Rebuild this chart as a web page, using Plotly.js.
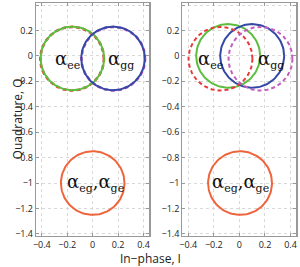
<!DOCTYPE html>
<html><head><meta charset="utf-8">
<script src="https://cdn.plot.ly/plotly-3.0.1.min.js"></script>
<style>html,body{margin:0;padding:0;background:#fff}#plot{width:300px;height:267px}</style>
</head><body><div id="plot"></div>
<script>
// Circle centres (I, Q) and radius for each panel
const radius = 0.25;
const circleNames = ["ee_dash", "ee", "gg_dash", "gg", "eg"];
const leftCx = [-0.162, -0.16, 0.162, 0.16, 0.0];
const leftCy = [-0.022, -0.02, -0.022, -0.02, -1.0];
const rightCx = [-0.148, -0.088, 0.165, 0.10, 0.005];
const rightCy = [-0.022, 0.0, -0.022, 0.0, -1.0];
const colors = ["#e83a3a", "#5cbd3e", "#c45bbf", "#3449a6", "#f0643c"];
const dashes = ["dash", "solid", "dash", "solid", "solid"];
const tickVals = [-0.4, -0.2, 0, 0.2, 0.4];
const yTickVals = [-1.4, -1.2, -1, -0.8, -0.6, -0.4, -0.2, 0, 0.2, 0.4];
const subStyle = "font-size:11px";
const labelText = [
  "α<sub><span style='" + subStyle + "'>ee</span></sub>",
  "α<sub><span style='" + subStyle + "'>gg</span></sub>",
  "α<sub><span style='" + subStyle + "'>eg</span></sub>,α<sub><span style='" + subStyle + "'>ge</span></sub>"
];
const leftLabelX = [-0.2, 0.22, 0.02];
const rightLabelX = [-0.23, 0.25, 0.01];
const labelY = [-0.03, -0.03, -1.0];

function circle(cx, cy, r) {
  const xs = [], ys = [];
  for (let i = 0; i <= 120; i++) {
    const t = 2 * Math.PI * i / 120;
    xs.push(cx + r * Math.cos(t));
    ys.push(cy + r * Math.sin(t));
  }
  return {xs, ys};
}
const traces = [];
function addPanel(cxs, cys, xa, ya, order, dashW) {
  order.forEach(i => {
    const c = circle(cxs[i], cys[i], radius);
    const isDash = dashes[i] === "dash";
    traces.push({x: c.xs, y: c.ys, xaxis: xa, yaxis: ya, type: "scatter", mode: "lines",
      line: {color: colors[i], width: isDash ? dashW : 2, dash: isDash ? "4px,3px" : "solid"},
      hoverinfo: "skip", showlegend: false});
  });
}
addPanel(leftCx, leftCy, "x", "y", [0, 2, 1, 3, 4], 2.6);
addPanel(rightCx, rightCy, "x2", "y2", [1, 3, 0, 2, 4], 2);

const tickFont = {family: "Open Sans, DejaVu Sans, sans-serif", size: 9, color: "#222"};
function xaxis(domain, anchor) {
  return {domain, anchor, range: [-0.446, 0.446], tickvals: tickVals,
    ticktext: tickVals.map(v => v < 0 ? "−" + Math.abs(v) : String(v)),
    showgrid: true, gridcolor: "#d8d8d8", griddash: "dot", gridwidth: 1,
    zeroline: false, showline: true, linecolor: "#999", linewidth: 1.2, mirror: "ticks",
    ticks: "inside", ticklen: 3, tickcolor: "#999", tickfont: tickFont};
}
function yaxis(domain, anchor) {
  return {domain, anchor, range: [-1.414, 0.416], tickvals: yTickVals,
    ticktext: yTickVals.map(v => v < 0 ? "−" + Math.abs(v) : String(v)),
    showgrid: true, gridcolor: "#d8d8d8", griddash: "dot", gridwidth: 1,
    zeroline: false, showline: true, linecolor: "#999", linewidth: 1.2, mirror: "ticks",
    ticks: "inside", ticklen: 3, tickcolor: "#999", tickfont: tickFont};
}
const annFont = {family: "DejaVu Serif, Liberation Serif, serif", size: 18, color: "#111"};
const annotations = [];
labelText.forEach((t, i) => {
  annotations.push({x: leftLabelX[i], y: labelY[i], xref: "x", yref: "y", text: t, showarrow: false, font: annFont});
  annotations.push({x: rightLabelX[i], y: labelY[i], xref: "x2", yref: "y2", text: t, showarrow: false, font: annFont});
});
annotations.push({x: 0.5, y: 0.03, xref: "paper", yref: "paper", xanchor: "center", yanchor: "middle",
  text: "In−phase, I", showarrow: false, font: {family: "Open Sans, sans-serif", size: 12, color: "#222"}});
annotations.push({x: 0.022, y: 0.553, xref: "paper", yref: "paper", textangle: -90,
  text: "Quadrature, Q", showarrow: false, font: {family: "Open Sans, sans-serif", size: 12, color: "#222"}});

const layout = {
  width: 300, height: 267, margin: {l: 0, r: 0, t: 0, b: 0},
  paper_bgcolor: "#fff", plot_bgcolor: "#fff", showlegend: false,
  xaxis: xaxis([0.12, 0.498], "y"), yaxis: yaxis([0.1172, 0.9888], "x"),
  xaxis2: xaxis([0.608, 0.988], "y2"), yaxis2: yaxis([0.1172, 0.9888], "x2"),
  annotations
};
Plotly.newPlot("plot", traces, layout, {staticPlot: true});
</script></body></html>
